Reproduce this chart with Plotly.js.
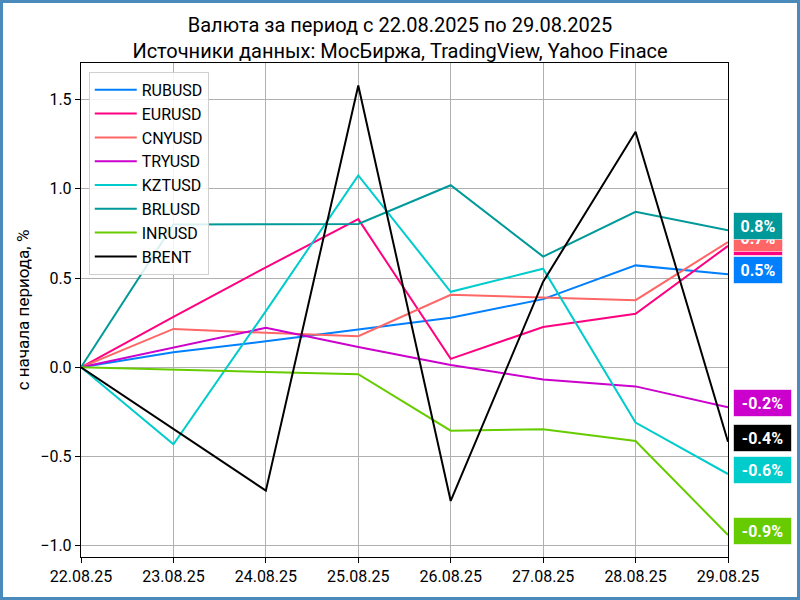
<!DOCTYPE html>
<html>
<head>
<meta charset="utf-8">
<script src="https://cdn.plot.ly/plotly-3.0.1.min.js"></script>
<style>
html,body{margin:0;padding:0;background:#fff;}
#wrap{width:800px;height:600px;box-sizing:border-box;border:3px solid #4a8bbb;}
#chart{width:794px;height:594px;}
</style>
</head>
<body>
<div id="wrap"><div id="chart"></div></div>
<script>
const dates = ['22.08.25','23.08.25','24.08.25','25.08.25','26.08.25','27.08.25','28.08.25','29.08.25'];
const seriesNames = ['RUBUSD','EURUSD','CNYUSD','TRYUSD','KZTUSD','BRLUSD','INRUSD','BRENT'];
const seriesColors = ['#007fff','#ff0080','#ff6666','#cc00cc','#00cccc','#009999','#66cc00','#000000'];
const RUBUSD = [0, 0.084, 0.146, 0.212, 0.277, 0.382, 0.571, 0.522];
const EURUSD = [0, 0.283, 0.560, 0.830, 0.047, 0.226, 0.300, 0.680];
const CNYUSD = [0, 0.215, 0.193, 0.174, 0.406, 0.390, 0.376, 0.702];
const TRYUSD = [0, 0.110, 0.221, 0.114, 0.013, -0.069, -0.107, -0.224];
const KZTUSD = [0, -0.431, 0.315, 1.075, 0.423, 0.552, -0.310, -0.598];
const BRLUSD = [0, 0.800, 0.801, 0.803, 1.020, 0.620, 0.871, 0.768];
const INRUSD = [0, -0.011, -0.026, -0.039, -0.355, -0.347, -0.413, -0.940];
const BRENT  = [0, -0.347, -0.691, 1.579, -0.749, 0.480, 1.320, -0.417];
const seriesValues = [RUBUSD, EURUSD, CNYUSD, TRYUSD, KZTUSD, BRLUSD, INRUSD, BRENT];

const FONT = 'Roboto, "DejaVu Sans", sans-serif';
const traces = seriesNames.map((n, i) => ({
  x: dates, y: seriesValues[i], name: n, type: 'scatter', mode: 'lines',
  line: {color: seriesColors[i], width: 2}
}));

const annotations = seriesNames.map((n, i) => {
  const v = seriesValues[i][seriesValues[i].length - 1];
  const t = v.toFixed(1) + '%';
  return {
    xref: 'paper', yref: 'y', x: 1, y: v, xanchor: 'left', yanchor: 'middle',
    xshift: 5, yshift: 4, showarrow: false,
    text: '<b>' + t + '</b>', width: t.length * 9 + 6, height: 20, align: 'center',
    font: {family: FONT, size: 16, color: '#ffffff'},
    bgcolor: seriesColors[i], bordercolor: 'rgba(255,255,255,0.6)', borderwidth: 1, borderpad: 3
  };
});

const yr = [-1.063, 1.705];
const layout = {
  width: 794, height: 594,
  margin: {l: 78, r: 69, t: 60, b: 40},
  paper_bgcolor: '#ffffff', plot_bgcolor: '#ffffff',
  font: {family: FONT, size: 16, color: '#000'},
  title: {text: 'Валюта за период с 22.08.2025 по 29.08.2025<br>Источники данных: МосБиржа, TradingView, Yahoo Finace',
          font: {family: FONT, size: 20, color: '#000'}, x: 0.5, xanchor: 'center', y: 0.952, yanchor: 'middle'},
  xaxis: {type: 'category', range: [0, 7], showgrid: true, gridcolor: '#b0b0b0', gridwidth: 1,
          showline: true, linecolor: '#000', linewidth: 1.2, mirror: true,
          ticks: 'outside', ticklen: 5, tickcolor: '#000', tickfont: {size: 16}, zeroline: false},
  yaxis: {range: yr, tickvals: [-1, -0.5, 0, 0.5, 1, 1.5], tickformat: '.1f', showgrid: true, gridcolor: '#b0b0b0',
          showline: true, linecolor: '#000', linewidth: 1.2, mirror: true, zeroline: false,
          ticks: 'outside', ticklen: 5, tickcolor: '#000', tickfont: {size: 16},
          title: {text: 'с начала периода, %', font: {size: 17}, standoff: 6}},
  yaxis2: {overlaying: 'y', side: 'right', range: yr, tickvals: [-1, -0.5, 0, 0.5, 1, 1.5], tickformat: '.1f',
           showgrid: false, zeroline: false, ticks: 'outside', ticklen: 5, tickcolor: '#000',
           tickfont: {size: 16}, showline: false},
  legend: {x: 0.012, y: 0.982, xanchor: 'left', yanchor: 'top', bgcolor: 'rgba(255,255,255,0.85)',
           bordercolor: '#d0d0d0', borderwidth: 1, font: {size: 16}, tracegroupgap: 0, itemwidth: 42},
  showlegend: true,
  annotations: annotations
};
Plotly.newPlot('chart', traces, layout, {displayModeBar: false, staticPlot: true});
</script>
</body>
</html>
